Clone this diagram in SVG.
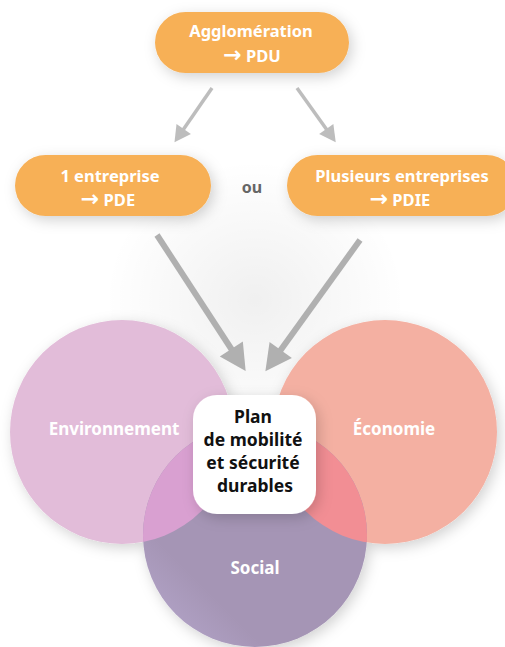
<svg xmlns="http://www.w3.org/2000/svg" width="505" height="647" viewBox="0 0 505 647">
<style>
.pill{fill:#f7b057;}
.pt{font-family:"Noto Sans","Open Sans",sans-serif;font-weight:bold;font-size:16.5px;fill:#ffffff;text-anchor:middle;}
.ar{font-family:"DejaVu Sans",sans-serif;font-weight:bold;font-size:22px;}
.ct{font-family:"Noto Sans","Open Sans",sans-serif;font-weight:bold;font-size:17.5px;fill:#111111;text-anchor:middle;}
.lt{font-family:"Noto Sans","Open Sans",sans-serif;font-weight:bold;font-size:17px;fill:#ffffff;text-anchor:middle;}
.ou{font-family:"Noto Sans","Open Sans",sans-serif;font-weight:bold;font-size:16px;fill:#666666;text-anchor:middle;}
.big{stroke:#b0b0b0;stroke-width:6;fill:none;}
.small{stroke:#bdbdbd;stroke-width:3.5;fill:none;}
</style>
<defs>
<filter id="sh" x="-30%" y="-30%" width="160%" height="160%">
<feDropShadow dx="3" dy="4" stdDeviation="7" flood-color="#000" flood-opacity="0.18"/>
</filter>
<radialGradient id="haze" cx="0.5" cy="0.5" r="0.5">
<stop offset="0" stop-color="#000" stop-opacity="0.06"/>
<stop offset="1" stop-color="#000" stop-opacity="0"/>
</radialGradient>
<marker id="ahBig" markerUnits="userSpaceOnUse" markerWidth="30" markerHeight="30" refX="0" refY="0" viewBox="-2 -12 24 24" orient="auto" overflow="visible">
<path d="M-1,-11 L20,0 L-1,11 z" fill="#b0b0b0"/>
</marker>
<marker id="ahSmall" markerUnits="userSpaceOnUse" markerWidth="20" markerHeight="20" refX="0" refY="0" viewBox="-2 -8 16 16" orient="auto" overflow="visible">
<path d="M-1,-7 L12,0 L-1,7 z" fill="#bdbdbd"/>
</marker>
<clipPath id="cEnv"><circle cx="122" cy="432" r="112"/></clipPath>
<clipPath id="cEco"><circle cx="385" cy="432" r="112"/></clipPath>
<linearGradient id="gSoc" x1="0" y1="1" x2="0.6" y2="0.4">
<stop offset="0" stop-color="#b8aad0"/>
<stop offset="0.45" stop-color="#a595b5"/>
</linearGradient>
</defs>
<rect width="505" height="647" fill="#ffffff"/>
<ellipse cx="255" cy="300" rx="150" ry="140" fill="url(#haze)"/>

<g id="circles">
<g filter="url(#sh)">
<circle id="env-circle" cx="122" cy="432" r="112" fill="#e2bcd9"/>
<circle id="eco-circle" cx="385" cy="432" r="112" fill="#f4b0a2"/>
<circle id="soc-circle" cx="255" cy="535" r="112" fill="url(#gSoc)"/>
</g>
<circle cx="255" cy="535" r="112" fill="#d9a0d1" clip-path="url(#cEnv)"/>
<circle cx="255" cy="535" r="112" fill="#f28e94" clip-path="url(#cEco)"/>
</g>

<g id="env"><text class="lt" x="114" y="435">Environnement</text></g>
<g id="eco"><text class="lt" x="394" y="435">Économie</text></g>
<g id="soc"><text class="lt" x="255" y="574">Social</text></g>

<g id="center">
<rect x="193" y="395" width="123" height="119" rx="24" fill="#ffffff" filter="url(#sh)"/>
<text class="ct" x="253" y="423">Plan</text>
<text class="ct" x="253" y="446">de mobilité</text>
<text class="ct" x="253" y="469">et sécurité</text>
<text class="ct" x="255" y="492">durables</text>
</g>

<g id="pdu">
<rect class="pill" x="155" y="12" width="194" height="61" rx="30.5" filter="url(#sh)"/>
<text class="pt" x="251" y="37">Agglomération</text>
<text class="pt" x="252" y="62"><tspan class="ar">→</tspan> PDU</text>
</g>
<g id="pde">
<rect class="pill" x="15" y="155" width="196" height="61" rx="30.5" filter="url(#sh)"/>
<text class="pt" x="110" y="182">1 entreprise</text>
<text class="pt" x="108" y="206"><tspan class="ar">→</tspan> PDE</text>
</g>
<g id="pdie">
<rect class="pill" x="287" y="155" width="230" height="61" rx="30.5" filter="url(#sh)"/>
<text class="pt" x="402" y="182">Plusieurs entreprises</text>
<text class="pt" x="400" y="206"><tspan class="ar">→</tspan> PDIE</text>
</g>
<g id="ou"><text class="ou" x="252" y="193">ou</text></g>

<g id="connectors">
<line class="small" x1="212" y1="88" x2="183" y2="130" marker-end="url(#ahSmall)"/>
<line class="small" x1="297" y1="88" x2="327" y2="130" marker-end="url(#ahSmall)"/>
<line class="big" x1="157" y1="235" x2="232" y2="350" marker-end="url(#ahBig)"/>
<line class="big" x1="360" y1="240" x2="280" y2="351" marker-end="url(#ahBig)"/>
</g>
</svg>
